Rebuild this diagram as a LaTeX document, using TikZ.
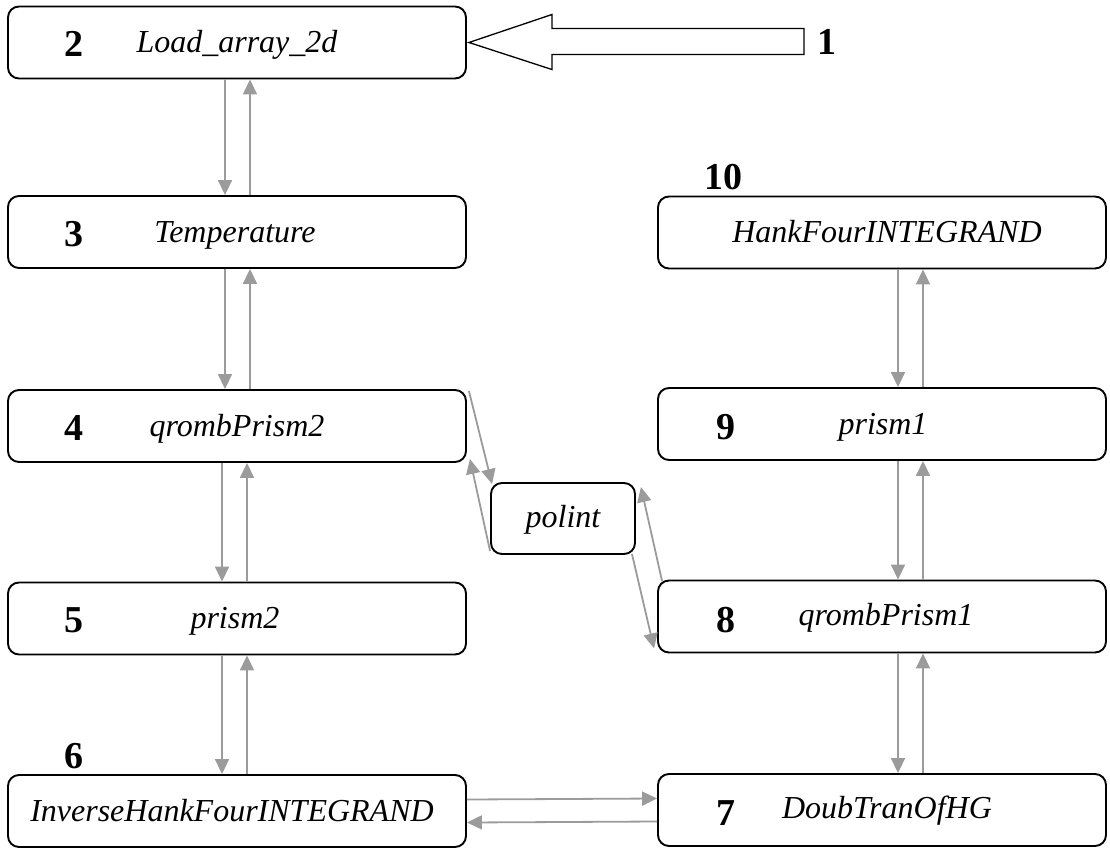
\documentclass[tikz,border=0pt]{standalone}
\usepackage{fontspec}
\setmainfont{Liberation Serif}
\usetikzlibrary{arrows.meta,calc}
\definecolor{arrowgray}{RGB}{155,155,155}
\begin{document}
\begin{tikzpicture}[x=1pt,y=-1pt,
  box/.style={draw=black, line width=1.9pt, rounded corners=11pt, minimum height=72pt, inner sep=0pt},
  lbox/.style={box, minimum width=458pt},
  rbox/.style={box, minimum width=448pt},
  fname/.style={font=\fontsize{32}{38}\selectfont\itshape, anchor=base, inner sep=0pt},
  num/.style={font=\fontsize{38}{44}\selectfont\bfseries, anchor=base, inner sep=0pt},
  flow/.style={draw=arrowgray, line width=1.8pt, -{Triangle[length=15pt,width=14pt]}},
  bigarrow/.style={draw=black, line width=1.3pt, line join=miter}
]
\useasboundingbox (0,0) rectangle (1110,848);

% boxes
\node[lbox] (b2) at (237,42.5) {};
\node[lbox] (b3) at (237,232) {};
\node[lbox] (b4) at (237,426) {};
\node[lbox] (b5) at (237,618.5) {};
\node[lbox] (b6) at (237,811) {};
\node[rbox] (b10) at (882,232.5) {};
\node[rbox] (b9) at (882,424) {};
\node[rbox] (b8) at (882,616.5) {};
\node[rbox] (b7) at (882,810) {};
\node[box, minimum width=144pt, minimum height=71pt] (pol) at (563,518.5) {};

% texts
\node[fname] (t2) at (237,53) {Load\_array\_2d};
\node[fname] (t3) at (235,242) {Temperature};
\node[fname] (t4) at (237,436) {qrombPrism2};
\node[fname] (t5) at (235,628.5) {prism2};
\node[fname] (t6) at (232,821) {InverseHankFourINTEGRAND};
\node[fname] (t10) at (887,242.5) {HankFourINTEGRAND};
\node[fname] (t9) at (883,434) {prism1};
\node[fname] (t8) at (886,625) {qrombPrism1};
\node[fname] (t7) at (887,818) {DoubTranOfHG};
\node[fname] (tp) at (563,527) {polint};

% numbers
\node[num] (n1) at (827,55) {1};
\node[num] (n2) at (74,57) {2};
\node[num] (n3) at (74,246) {3};
\node[num] (n4) at (74,440) {4};
\node[num] (n5) at (74,632.5) {5};
\node[num] (n6) at (74,768) {6};
\node[num] (n7) at (726,825) {7};
\node[num] (n8) at (726,632) {8};
\node[num] (n9) at (726,439) {9};
\node[num] (n10) at (723,189) {10};

% big hollow arrow into box 2
\coordinate (tip) at ([xshift=2pt]b2.east);
\draw[bigarrow] (tip) -- ++(83,-28) -- ++(0,14) -- ++(252,0) -- ++(0,26) -- ++(-252,0) -- ++(0,15) -- cycle;

% left column
\draw[flow] ([xshift=-12pt]b2.south) -- ([xshift=-12pt]b3.north);
\draw[flow] ([xshift=13pt]b3.north) -- ([xshift=13pt]b2.south);
\draw[flow] ([xshift=-12pt]b3.south) -- ([xshift=-12pt]b4.north);
\draw[flow] ([xshift=13pt]b4.north) -- ([xshift=13pt]b3.south);
\draw[flow] ([xshift=-15pt]b4.south) -- ([xshift=-15pt]b5.north);
\draw[flow] ([xshift=10pt]b5.north) -- ([xshift=10pt]b4.south);
\draw[flow] ([xshift=-15pt]b5.south) -- ([xshift=-15pt]b6.north);
\draw[flow] ([xshift=10pt]b6.north) -- ([xshift=10pt]b5.south);

% right column
\draw[flow] ([xshift=16pt]b10.south) -- ([xshift=16pt]b9.north);
\draw[flow] ([xshift=41pt]b9.north) -- ([xshift=41pt]b10.south);
\draw[flow] ([xshift=16pt]b9.south) -- ([xshift=16pt]b8.north);
\draw[flow] ([xshift=41pt]b8.north) -- ([xshift=41pt]b9.south);
\draw[flow] ([xshift=16pt]b8.south) -- ([xshift=16pt]b7.north);
\draw[flow] ([xshift=41pt]b7.north) -- ([xshift=41pt]b8.south);

% bottom horizontal
\draw[flow] ([yshift=11.5pt]b6.east) -- ([yshift=11.5pt]b7.west);
\draw[flow] ([yshift=-11.5pt]b7.west) -- ([yshift=-11.5pt]b6.east);

% polint diagonals
\draw[flow] ([shift={(2pt,-2pt)}]b4.north east) -- ([shift={(2pt,-2pt)}]pol.north west);
\draw[flow] ([yshift=4pt]pol.south west) -- ([shift={(3pt,4pt)}]b4.south east);
\draw[flow] ([shift={(5pt,-1.5pt)}]b8.north west) -- ([shift={(5pt,-5pt)}]pol.north east);
\draw[flow] ([shift={(-4pt,1pt)}]pol.south east) -- ([shift={(-3pt,5pt)}]b8.south west);
\end{tikzpicture}
\end{document}
